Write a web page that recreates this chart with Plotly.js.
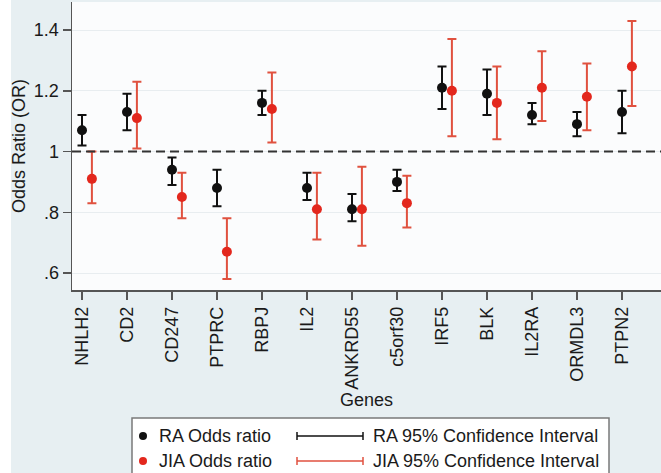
<!DOCTYPE html>
<html>
<head>
<meta charset="utf-8">
<script src="https://cdn.plot.ly/plotly-3.0.1.min.js"></script>
<style>html,body{margin:0;padding:0;background:#fff;}#chart{width:661px;height:473px;}</style>
</head>
<body>
<div id="chart"></div>
<script>
const genes = ['NHLH2','CD2','CD247','PTPRC','RBPJ','IL2','ANKRD55','c5orf30','IRF5','BLK','IL2RA','ORMDL3','PTPN2'];
const raOR   = [1.07,1.13,0.94,0.88,1.16,0.88,0.81,0.90,1.21,1.19,1.12,1.09,1.13];
const raLow  = [1.02,1.07,0.89,0.82,1.12,0.84,0.77,0.87,1.14,1.12,1.09,1.05,1.06];
const raHigh = [1.12,1.19,0.98,0.94,1.20,0.93,0.86,0.94,1.28,1.27,1.16,1.13,1.20];
const jiaOR   = [0.91,1.11,0.85,0.67,1.14,0.81,0.81,0.83,1.20,1.16,1.21,1.18,1.28];
const jiaLow  = [0.83,1.01,0.78,0.58,1.03,0.71,0.69,0.75,1.05,1.04,1.10,1.07,1.15];
const jiaHigh = [1.00,1.23,0.93,0.78,1.26,0.93,0.95,0.92,1.37,1.28,1.33,1.29,1.43];
const yTickVals = [0.6,0.8,1,1.2,1.4];
const yTickText = ['.6','.8','1','1.2','1.4'];
const legendLabels = ['RA Odds ratio','JIA Odds ratio','RA 95% Confidence Interval','JIA 95% Confidence Interval'];

const BLACK = '#111111', RED_DOT = '#e3271d', RED_CI = '#e0513f';
const FONT = '"Liberation Sans", Arial, sans-serif';
const idx = genes.map((g,i)=>i+1);
const jOff = 0.22;

const raTrace = {
  x: idx, y: raOR, type:'scatter', mode:'markers', name: legendLabels[0],
  marker:{color:BLACK, size:10},
  error_y:{type:'data', symmetric:false,
    array: raHigh.map((h,i)=>h-raOR[i]), arrayminus: raLow.map((l,i)=>raOR[i]-l),
    color:BLACK, thickness:2, width:4.5},
  showlegend:false, hoverinfo:'y'
};
const jiaTrace = {
  x: idx.map(v=>v+jOff), y: jiaOR, type:'scatter', mode:'markers', name: legendLabels[1],
  marker:{color:RED_DOT, size:10},
  error_y:{type:'data', symmetric:false,
    array: jiaHigh.map((h,i)=>h-jiaOR[i]), arrayminus: jiaLow.map((l,i)=>jiaOR[i]-l),
    color:RED_CI, thickness:2, width:4.5},
  showlegend:false, hoverinfo:'y'
};

// layout geometry helpers (pixel -> paper)
const L=72, R=661, T=2, B=290;
const px = x => (x-L)/(R-L);
const py = y => (B-y)/(B-T);

const shapes = [
  {type:'rect', xref:'paper', yref:'paper', x0:px(-5), x1:px(11), y0:py(480), y1:py(-5), fillcolor:'#ffffff', line:{width:0}, layer:'below'},
  {type:'line', xref:'paper', yref:'y', x0:0, x1:1, y0:1, y1:1, line:{color:'#333333', width:2, dash:'9px,5px'}},
  {type:'rect', xref:'paper', yref:'paper', x0:px(132), x1:px(609), y0:py(480), y1:py(418), fillcolor:'#ffffff', line:{color:'#7a7a7a', width:1.5}},
  {type:'circle', xref:'paper', yref:'paper', xsizemode:'pixel', ysizemode:'pixel', xanchor:px(143), yanchor:py(436), x0:-4, x1:4, y0:-4, y1:4, fillcolor:BLACK, line:{width:0}},
  {type:'circle', xref:'paper', yref:'paper', xsizemode:'pixel', ysizemode:'pixel', xanchor:px(143), yanchor:py(461), x0:-4, x1:4, y0:-4, y1:4, fillcolor:RED_DOT, line:{width:0}},
  {type:'line', xref:'paper', yref:'paper', x0:px(297), x1:px(363), y0:py(436), y1:py(436), line:{color:BLACK, width:1.5}},
  {type:'line', xref:'paper', yref:'paper', x0:px(297), x1:px(297), y0:py(432), y1:py(440), line:{color:BLACK, width:1.5}},
  {type:'line', xref:'paper', yref:'paper', x0:px(363), x1:px(363), y0:py(432), y1:py(440), line:{color:BLACK, width:1.5}},
  {type:'line', xref:'paper', yref:'paper', x0:px(297), x1:px(363), y0:py(461), y1:py(461), line:{color:RED_CI, width:1.5}},
  {type:'line', xref:'paper', yref:'paper', x0:px(297), x1:px(297), y0:py(457), y1:py(465), line:{color:RED_CI, width:1.5}},
  {type:'line', xref:'paper', yref:'paper', x0:px(363), x1:px(363), y0:py(457), y1:py(465), line:{color:RED_CI, width:1.5}}
];

const annFont = {family:FONT, size:18, color:'#1a1a1a'};
const annotations = [
  {xref:'paper', yref:'paper', x:px(157), y:py(436), xanchor:'left', yanchor:'middle', text:legendLabels[0], showarrow:false, font:annFont},
  {xref:'paper', yref:'paper', x:px(157), y:py(461), xanchor:'left', yanchor:'middle', text:legendLabels[1], showarrow:false, font:annFont},
  {xref:'paper', yref:'paper', x:px(371), y:py(436), xanchor:'left', yanchor:'middle', text:legendLabels[2], showarrow:false, font:annFont},
  {xref:'paper', yref:'paper', x:px(371), y:py(461), xanchor:'left', yanchor:'middle', text:legendLabels[3], showarrow:false, font:annFont}
];

const layout = {
  width:661, height:473,
  margin:{l:L, r:661-R, t:T, b:473-B, pad:0},
  paper_bgcolor:'#e7eff2',
  plot_bgcolor:'#fbfcfd',
  font:{family:FONT, size:18, color:'#1a1a1a'},
  showlegend:false,
  xaxis:{
    range:[1-10/45, 1+(R-82)/45],
    tickvals: idx, ticktext: genes, tickangle:-90,
    ticks:'outside', ticklen:8, tickwidth:1.5, tickcolor:'#555',
    showline:true, linecolor:'#555', linewidth:1.5,
    showgrid:false, zeroline:false,
    tickfont:{family:FONT, size:18, color:'#1a1a1a'},
    title:{text:'Genes', font:{family:FONT, size:18, color:'#1a1a1a'}, standoff:4},
    automargin:false
  },
  yaxis:{
    range:[0.6-17/303.75, 1.4+28/303.75],
    tickvals:yTickVals, ticktext:yTickText,
    ticks:'outside', ticklen:8, tickwidth:1.5, tickcolor:'#555',
    showline:true, linecolor:'#555', linewidth:1.5,
    showgrid:true, gridcolor:'#e8edf0', gridwidth:1, zeroline:false,
    tickfont:{family:FONT, size:18, color:'#1a1a1a'},
    title:{text:'Odds Ratio (OR)', font:{family:FONT, size:18, color:'#1a1a1a'}, standoff:3},
    automargin:false
  },
  shapes: shapes,
  annotations: annotations
};

Plotly.newPlot('chart', [raTrace, jiaTrace], layout, {displayModeBar:false, staticPlot:true});
</script>
</body>
</html>
